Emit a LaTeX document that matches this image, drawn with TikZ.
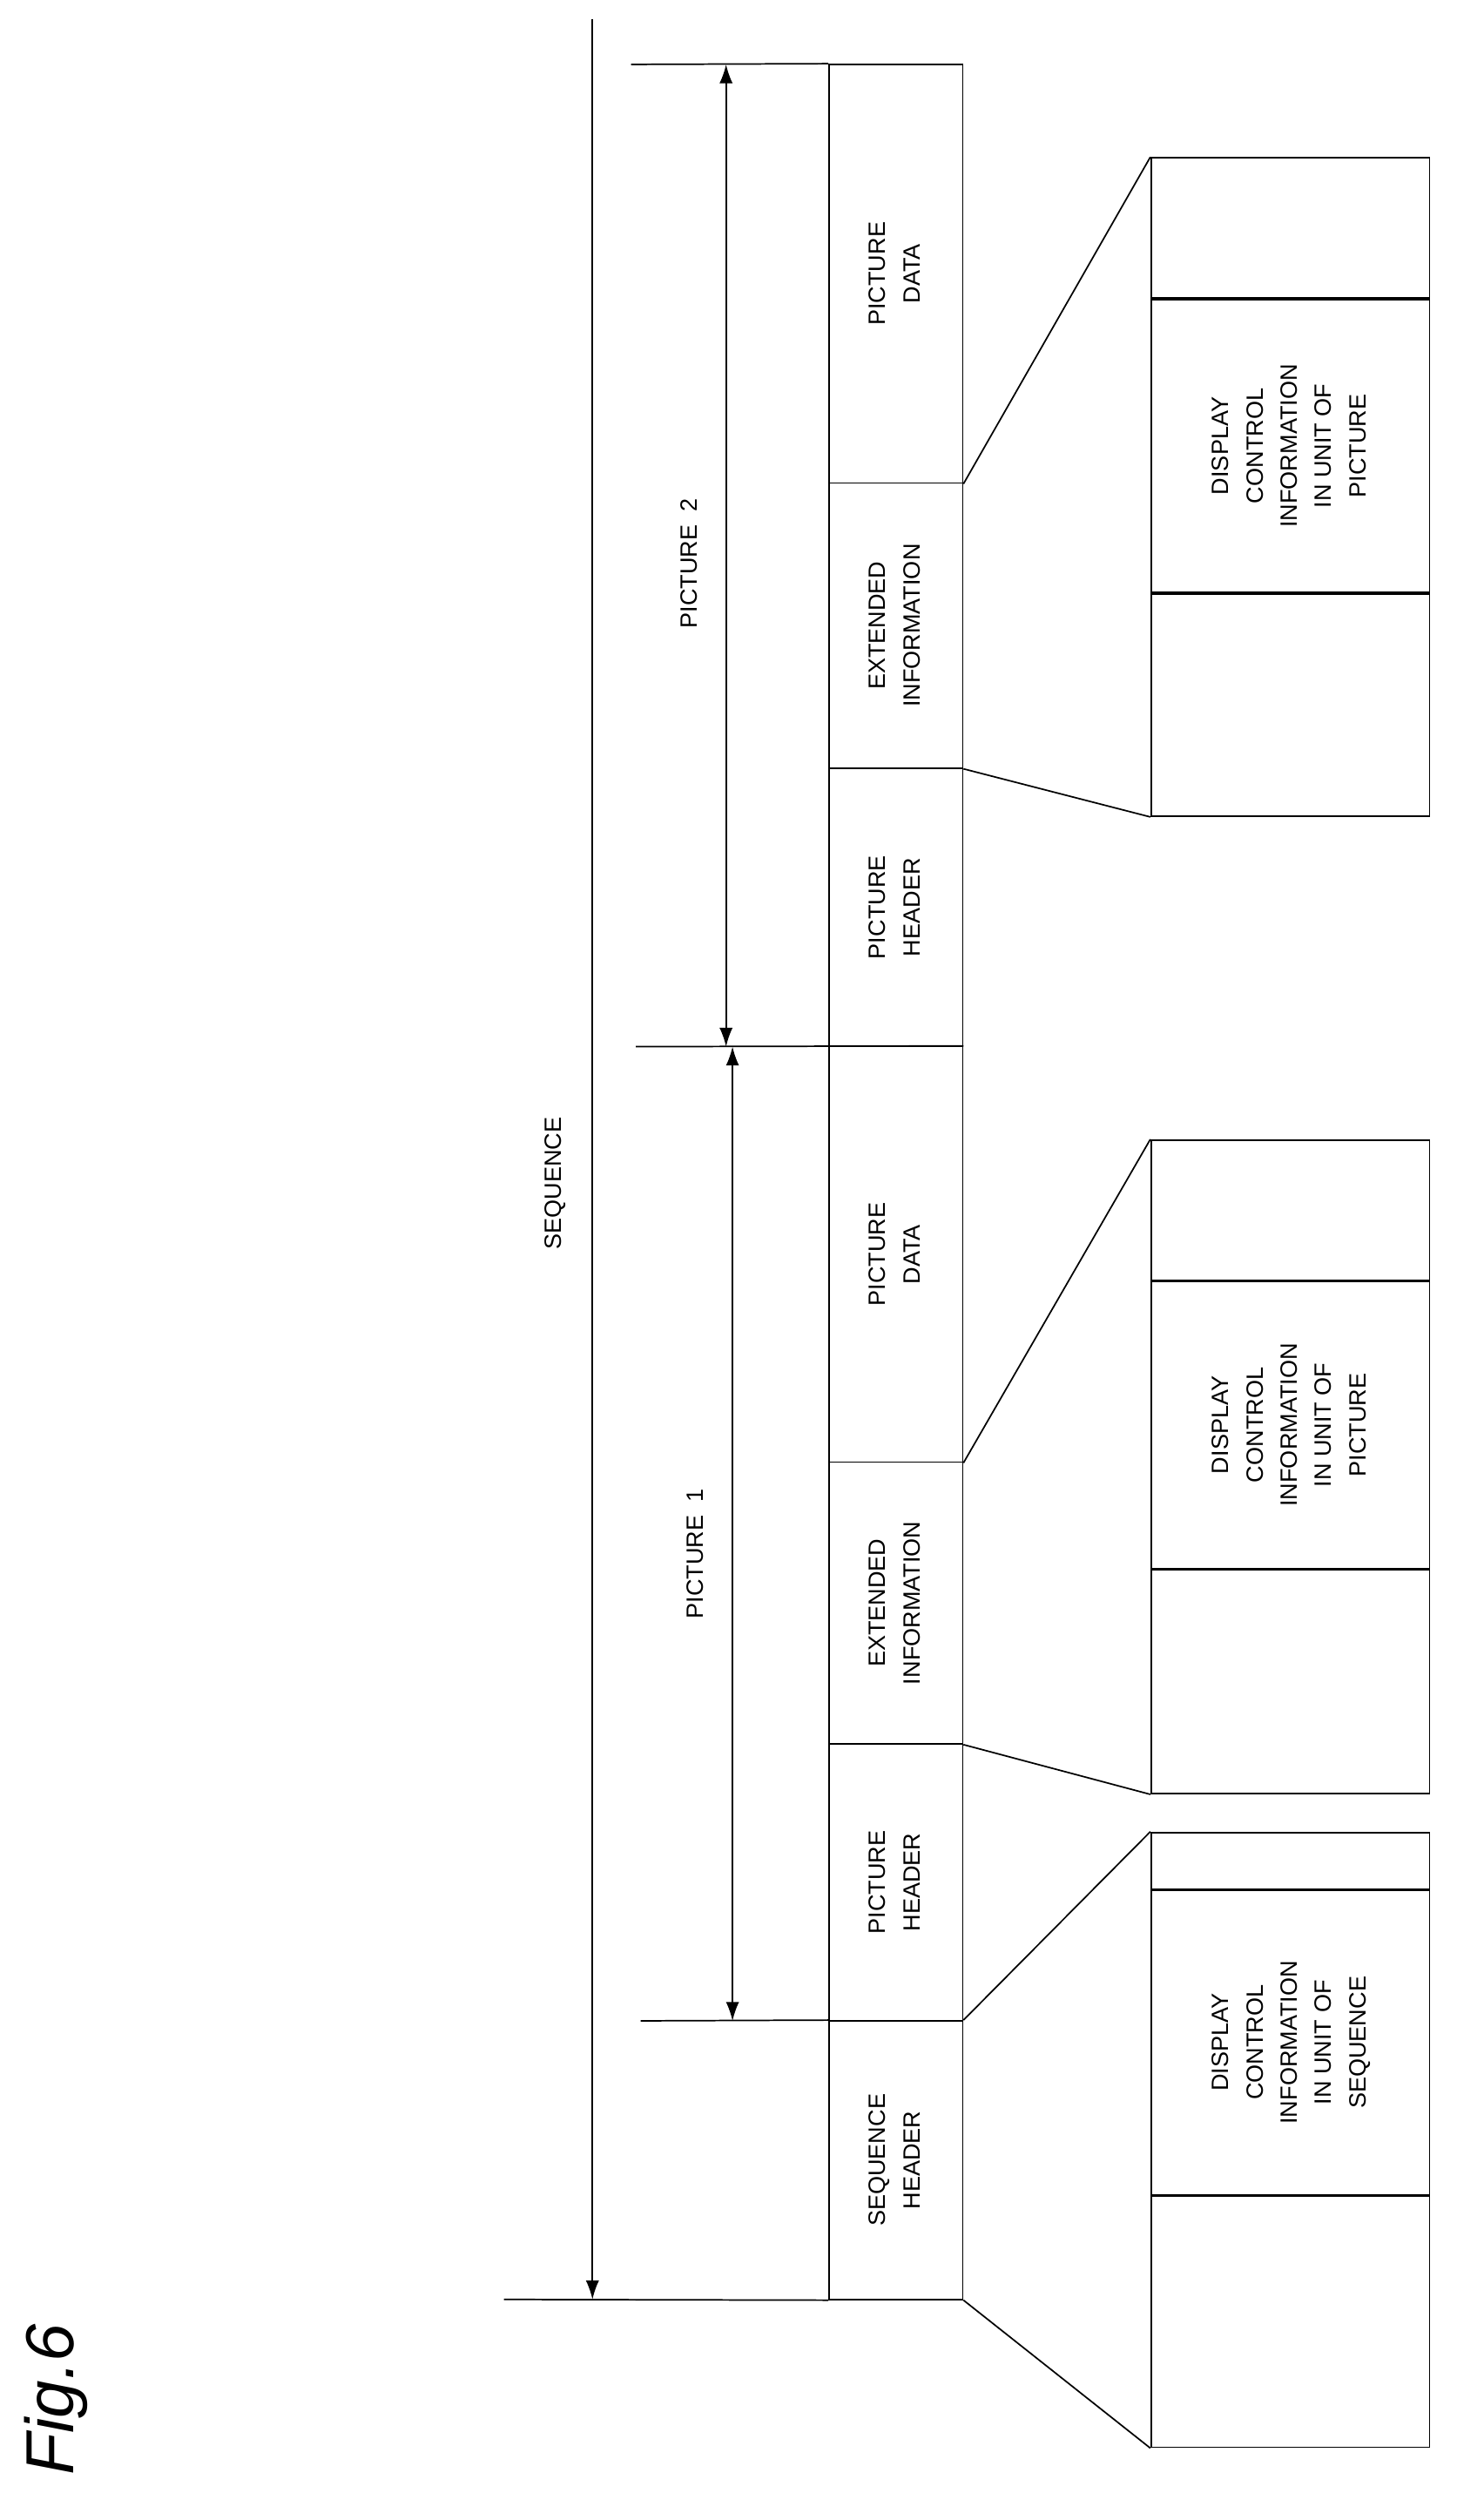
\documentclass[tikz,border=0pt]{standalone}
\usepackage{fontspec}
\setmainfont{Liberation Sans}
\usetikzlibrary{positioning, arrows.meta}
\newcommand{\vtext}[1]{\rotatebox{90}{\renewcommand{\arraystretch}{1.3}\begin{tabular}{@{}c@{}}#1\end{tabular}}}
\tikzset{
  seg/.style={draw, line width=0.8pt, minimum width=2.49cm, inner sep=0pt, font=\fontsize{12.5}{14}\selectfont},
  info/.style={draw, line width=0.8pt, minimum width=5.19cm, inner sep=0pt, font=\fontsize{12.5}{14}\selectfont},
  span/.style={{Latex[length=10pt,width=7pt]}-{Latex[length=10pt,width=7pt]}, line width=0.8pt},
  lab/.style={rotate=90, font=\fontsize{12.5}{14}\selectfont}
}
\begin{document}
\begin{tikzpicture}
\useasboundingbox (0,0) rectangle (27.15,-46.95);
        % Stream segments
        \node[seg, minimum height=7.8cm]  at (16.695,-5.1)    (pd2) {\vtext{PICTURE\\DATA}};
        \node[seg, minimum height=5.31cm] at (16.695,-11.655) (ei2) {\vtext{EXTENDED\\INFORMATION}};
        \node[seg, minimum height=5.19cm] at (16.695,-16.905) (ph2) {\vtext{PICTURE\\HEADER}};
        \node[seg, minimum height=7.74cm] at (16.695,-23.37)  (pd1) {\vtext{PICTURE\\DATA}};
        \node[seg, minimum height=5.25cm] at (16.695,-29.865) (ei1) {\vtext{EXTENDED\\INFORMATION}};
        \node[seg, minimum height=5.16cm] at (16.695,-35.07)  (ph1) {\vtext{PICTURE\\HEADER}};
        \node[seg, minimum height=5.19cm] at (16.695,-40.245) (sh)  {\vtext{SEQUENCE\\HEADER}};
        % Detail boxes
        \node[info, minimum height=2.61cm] at (24.045,-4.245)  (d3a) {};
        \node[info, minimum height=5.46cm, below=0pt of d3a]   (d3b) {\vtext{DISPLAY\\CONTROL\\INFORMATION\\IN UNIT OF\\PICTURE}};
        \node[info, minimum height=4.14cm, below=0pt of d3b]   (d3c) {};
        \node[info, minimum height=2.61cm] at (24.045,-22.545) (d2a) {};
        \node[info, minimum height=5.34cm, below=0pt of d2a]   (d2b) {\vtext{DISPLAY\\CONTROL\\INFORMATION\\IN UNIT OF\\PICTURE}};
        \node[info, minimum height=4.17cm, below=0pt of d2b]   (d2c) {};
        \node[info, minimum height=1.05cm] at (24.045,-34.665) (d1a) {};
        \node[info, minimum height=5.67cm, below=0pt of d1a]   (d1b) {\vtext{DISPLAY\\CONTROL\\INFORMATION\\IN UNIT OF\\SEQUENCE}};
        \node[info, minimum height=4.68cm, below=0pt of d1b]   (d1c) {};
        % Fan-out lines
        \draw[line width=0.8pt] (pd2.south east) -- (d3a.north west);
        \draw[line width=0.8pt] (ei2.south east) -- (d3c.south west);
        \draw[line width=0.8pt] (pd1.south east) -- (d2a.north west);
        \draw[line width=0.8pt] (ei1.south east) -- (d2c.south west);
        \draw[line width=0.8pt] (sh.north east) -- (d1a.north west);
        \draw[line width=0.8pt] (sh.south east) -- (d1c.south west);
        % Extent marks
        \coordinate (top)  at (11.76,-1.2);
        \coordinate (mid)  at (11.85,-19.5);
        \coordinate (low)  at (11.94,-37.65);
        \coordinate (bot)  at (9.39,-42.84);
        \coordinate (seqtop) at (11.04,-0.36);
        \draw[line width=0.8pt] (top) -- (pd2.north west);
        \draw[line width=0.8pt] (mid) -- (pd1.north east);
        \draw[line width=0.8pt] (low) -- (sh.north west);
        \draw[line width=0.8pt] (bot) -- (sh.south west);
        \draw[-{Latex[length=10pt,width=7pt]}, line width=0.8pt] (seqtop) -- (seqtop |- bot);
        \draw[span] (13.53,-1.2) -- (13.53,-19.5);
        \draw[span] (13.65,-19.5) -- (13.65,-37.65);
        % Labels
        \node[lab] at (10.35,-22.05) (seqlab) {SEQUENCE};
        \node[lab] at (12.84,-10.5)  (p2lab)  {PICTURE\ \ 2};
        \node[lab] at (12.96,-28.95) (p1lab)  {PICTURE\ \ 1};
        \node[rotate=90, font=\fontsize{36}{40}\selectfont\itshape] at (1.05,-44.7) (fig) {Fig.6};
\end{tikzpicture}
\end{document}
